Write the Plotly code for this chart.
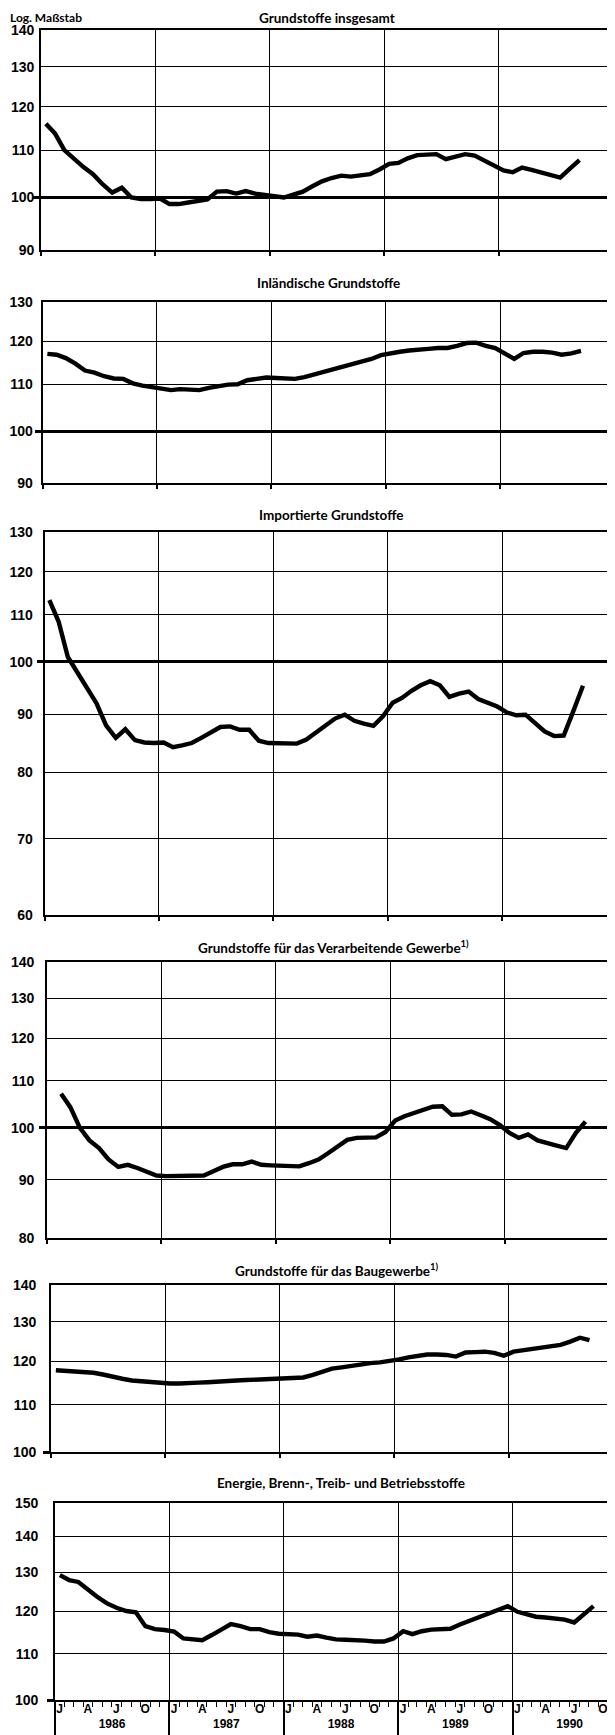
import math
import pandas as pd
import plotly.graph_objects as go

# ---------------- data ----------------
months = pd.date_range("1986-01-01", "1990-09-01", freq="MS")

titles = [
    "Grundstoffe insgesamt",
    "Inländische Grundstoffe",
    "Importierte Grundstoffe",
    "Grundstoffe für das Verarbeitende Gewerbe<sup>1)</sup>",
    "Grundstoffe für das Baugewerbe<sup>1)</sup>",
    "Energie, Brenn-, Treib- und Betriebsstoffe",
]

grundstoffe_insgesamt = [
    116.0, 113.7, 110.0, 108.0, 106.3, 104.8, 102.7, 101.0, 102.0, 100.0, 99.7, 99.7,
    99.8, 98.7, 98.7, 99.0, 99.3, 99.6, 101.2, 101.3, 100.8, 101.3, 100.8, 100.6,
    100.4, 100.0, 100.6, 101.2, 102.3, 103.3, 104.0, 104.5, 104.3, 104.6, 104.8, 105.8,
    107.0, 107.2, 108.2, 108.9, 109.1, 109.1, 108.0, 108.6, 109.1, 108.8, 107.8, 106.6,
    105.6, 105.2, 106.2, 105.7, 105.2, 104.7, 104.1, 106.0, 107.8,
]
inlaendische = [
    117.0, 116.8, 116.0, 114.7, 113.1, 112.6, 111.8, 111.3, 111.2, 110.2, 109.7, 109.4,
    109.1, 108.7, 108.9, 108.9, 108.7, 109.2, 109.6, 109.9, 110.0, 110.9, 111.2, 111.5,
    111.4, 111.2, 111.2, 111.6, 112.2, 112.7, 113.3, 114.1, 114.7, 115.2, 115.8, 116.7,
    117.2, 117.5, 117.8, 118.1, 118.2, 118.4, 118.4, 118.9, 119.6, 119.7, 118.9, 118.4,
    117.0, 115.8, 117.2, 117.5, 117.5, 117.3, 116.8, 117.1, 117.7,
]
importierte = [
    113.3, 108.5, 101.0, 98.0, 95.0, 92.0, 88.0, 85.8, 87.3, 85.4, 85.0, 84.9,
    85.0, 84.2, 84.5, 84.9, 85.8, 86.8, 87.7, 87.8, 87.2, 87.2, 85.3, 84.9,
    84.9, 84.9, 84.8, 85.5, 86.7, 88.0, 89.2, 89.9, 88.8, 88.3, 87.9, 89.6,
    92.1, 93.0, 94.3, 95.4, 96.2, 95.4, 93.2, 93.8, 94.2, 92.8, 92.0, 91.4,
    90.3, 89.8, 89.9, 88.5, 86.9, 86.1, 86.2, 90.6, 95.3,
]
verarbeitende = [
    None, 107.2, 104.3, 100.0, 97.5, 96.0, 93.8, 92.4, 92.8, 92.2, 91.4, 90.8,
    90.7, 90.7, 90.7, 90.8, 90.8, 91.6, 92.4, 92.9, 92.9, 93.4, 92.8, 92.7,
    92.6, 92.5, 92.5, 93.1, 93.8, 95.0, 96.3, 97.6, 98.0, 98.0, 98.1, 99.2,
    101.5, 102.4, 103.0, 103.8, 104.4, 104.5, 102.7, 102.8, 103.4, 102.6, 101.8, 100.6,
    99.0, 98.0, 98.7, 97.5, 96.9, 96.5, 96.0, 99.0, 101.3,
]
baugewerbe = [
    117.9, 117.8, 117.7, 117.5, 117.3, 116.9, 116.3, 115.9, 115.5, 115.3, 115.1, 114.9,
    114.8, 114.8, 114.8, 115.0, 115.1, 115.3, 115.4, 115.5, 115.6, 115.7, 115.7, 115.8,
    115.8, 115.9, 116.2, 116.8, 117.6, 118.3, 118.6, 119.0, 119.3, 119.6, 119.8, 120.1,
    120.5, 121.0, 121.4, 121.7, 121.7, 121.6, 121.2, 122.2, 122.3, 122.4, 122.1, 121.4,
    122.4, 122.7, 123.0, 123.4, 123.7, 124.1, 124.9, 125.9, 125.3,
]
energie = [
    129.3, 128.0, 127.5, 125.5, 123.6, 122.0, 120.9, 120.1, 119.8, 116.4, 115.7, 115.5,
    115.1, 113.5, 113.3, 113.1, 114.3, 115.6, 116.9, 116.4, 115.7, 115.7, 115.0, 114.6,
    114.5, 114.4, 113.9, 114.2, 113.7, 113.3, 113.2, 113.2, 113.0, 112.8, 112.8, 113.5,
    115.2, 114.5, 115.2, 115.6, 115.7, 115.8, 116.8, 117.7, 118.5, 119.3, 120.3, 121.3,
    119.9, 119.2, 118.7, 118.5, 118.3, 118.0, 117.3, 119.3, 121.3,
]
series = [grundstoffe_insgesamt, inlaendische, importierte, verarbeitende, baugewerbe, energie]

y_ranges = [(90, 140), (90, 130), (60, 130), (80, 140), (100, 140), (100, 150)]
y_ticks = [
    [90, 100, 110, 120, 130, 140],
    [90, 100, 110, 120, 130],
    [60, 70, 80, 90, 100, 110, 120, 130],
    [80, 90, 100, 110, 120, 130, 140],
    [100, 110, 120, 130, 140],
    [100, 110, 120, 130, 140, 150],
]
month_labels = ["J", "A", "J", "O"]
year_labels = ["1986", "1987", "1988", "1989", "1990"]

# ---------------- layout geometry (page pixels) ----------------
PAGE_W, PAGE_H = 615, 1735
OFF = 8                      # default body margin of the html page
W, H = PAGE_W - OFF, PAGE_H - OFF
tops = [30, 302, 532, 962, 1285, 1503]
bottoms = [250, 483, 915, 1238, 1452, 1700]
lefts = [41, 42.5, 44.5, 47, 51, 55]
title_gap = [12, 19, 17, 15, 15, 20]
label_standoff = [2, 5, 7, 8, 10, 12]
YEAR_PX = 114.4

FONT_NUM = dict(family="Liberation Sans, Arial, sans-serif", size=14, color="black", weight="bold")
FONT_TTL = dict(family="Lato, Liberation Sans, sans-serif", size=13.5, color="black", weight="bold")


def fx(p):
    return (p - OFF) / W


def fy(p):
    return 1 - (p - OFF) / H


x_start = pd.Timestamp("1986-01-01")
x_full_end = pd.Timestamp("1991-01-01")
x_mid = x_start + (x_full_end - x_start) / 2

fig = go.Figure()
layout = dict(
    width=W, height=H, margin=dict(l=0, r=0, t=0, b=0),
    paper_bgcolor="white", plot_bgcolor="white", showlegend=False,
)
annotations = []

n = len(series)
for i in range(n):
    k = i + 1
    xname = "xaxis" if k == 1 else f"xaxis{k}"
    yname = "yaxis" if k == 1 else f"yaxis{k}"
    xref = "x" if k == 1 else f"x{k}"
    yref = "y" if k == 1 else f"y{k}"

    left = lefts[i]
    right = left + 5 * YEAR_PX
    if right <= PAGE_W:
        xdom = [fx(left), min(1.0, fx(right))]
        x_end = x_full_end
        mirror_y = True
    else:
        xdom = [fx(left), 1.0]
        x_end = x_start + (x_full_end - x_start) * ((PAGE_W - left) / (5 * YEAR_PX))
        mirror_y = False
    ydom = [fy(bottoms[i]), fy(tops[i])]
    lo, hi = y_ranges[i]
    last = (i == n - 1)

    xa = dict(
        domain=xdom, anchor=yref, type="date",
        range=[x_start, x_end],
        tickmode="linear", tick0="1986-01-01", dtick="M12",
        showgrid=True, gridcolor="black", gridwidth=1.3,
        ticks="outside", ticklen=36 if last else 4, tickwidth=1.6, tickcolor="black",
        showticklabels=False,
        showline=True, mirror=True, linecolor="black", linewidth=1.8,
        zeroline=False, automargin=False, fixedrange=True,
    )
    if last:
        xa["minor"] = dict(dtick="M1", tick0="1986-01-01", ticks="outside", ticklen=5,
                           tickwidth=1.3, tickcolor="black", showgrid=False)
    layout[xname] = xa

    layout[yname] = dict(
        domain=ydom, anchor=xref, type="log",
        range=[math.log10(lo), math.log10(hi)],
        tickmode="array", tickvals=y_ticks[i], ticktext=[str(v) for v in y_ticks[i]],
        tickfont=FONT_NUM, ticks="", ticklabelstandoff=label_standoff[i],
        showgrid=True, gridcolor="black", gridwidth=1.3,
        showline=True, mirror=mirror_y, linecolor="black", linewidth=1.8,
        zeroline=False, automargin=False, fixedrange=True,
    )

    # emphasised 100 line, drawn by an overlaying axis with a single tick
    ok = n + k
    layout[f"yaxis{ok}"] = dict(
        overlaying=yref, anchor=xref, side="left", type="log",
        range=[math.log10(lo), math.log10(hi)],
        tickmode="array", tickvals=[100], showticklabels=False,
        ticks="outside", ticklen=7, tickwidth=2.6, tickcolor="black",
        showgrid=True, gridcolor="black", gridwidth=2.6,
        showline=False, zeroline=False, automargin=False, fixedrange=True,
    )
    fig.add_trace(go.Scatter(x=[], y=[], mode="lines", hoverinfo="skip",
                             xaxis=xref, yaxis=f"y{ok}"))

    fig.add_trace(go.Scatter(
        x=months, y=series[i], xperiod="M1", xperiodalignment="middle",
        mode="lines", line=dict(color="black", width=4.4, shape="linear"),
        connectgaps=False, hoverinfo="skip", xaxis=xref, yaxis=yref,
    ))

    annotations.append(dict(
        text=titles[i], xref=xref, x=x_mid, yref=f"{yref} domain", y=1,
        xanchor="center", yanchor="middle", yshift=title_gap[i],
        showarrow=False, font=FONT_TTL,
    ))

# "Log. Maßstab" label
annotations.append(dict(
    text="Log. Maßstab", xref="paper", x=fx(8), yref="y domain", y=1,
    xanchor="left", yanchor="middle", yshift=title_gap[0],
    showarrow=False, font=dict(FONT_TTL, size=12),
))

# month and year labels under the last panel
month_ticks, month_text = [], []
for yr in range(1986, 1991):
    for m, lab in zip([1, 4, 7, 10], month_labels):
        month_ticks.append(pd.Timestamp(yr, m, 16))
        month_text.append(lab)
year_ticks = [pd.Timestamp(int(y), 7, 2) for y in year_labels]

last_x = f"x{n}"
last_y = f"y{n}"
base_x = layout[f"xaxis{n}"]
xm, xy = 2 * n + 1, 2 * n + 2
layout[f"xaxis{xm}"] = dict(
    overlaying=last_x, anchor=last_y, side="bottom", type="date",
    range=base_x["range"], domain=base_x["domain"],
    tickmode="array", tickvals=month_ticks, ticktext=month_text,
    tickfont=dict(FONT_NUM, size=12), ticks="", ticklabelstandoff=0,
    showgrid=False, showline=False, zeroline=False, automargin=False, fixedrange=True,
)
layout[f"xaxis{xy}"] = dict(
    overlaying=last_x, anchor=last_y, side="bottom", type="date",
    range=base_x["range"], domain=base_x["domain"],
    tickmode="array", tickvals=year_ticks, ticktext=year_labels,
    tickfont=dict(FONT_NUM, size=12), ticks="", ticklabelstandoff=15,
    showgrid=False, showline=False, zeroline=False, automargin=False, fixedrange=True,
)
fig.add_trace(go.Scatter(x=[], y=[], mode="lines", hoverinfo="skip",
                         xaxis=f"x{xm}", yaxis=last_y))
fig.add_trace(go.Scatter(x=[], y=[], mode="lines", hoverinfo="skip",
                         xaxis=f"x{xy}", yaxis=last_y))

layout["annotations"] = annotations
fig.update_layout(**layout)
fig.write_html("out.html")
